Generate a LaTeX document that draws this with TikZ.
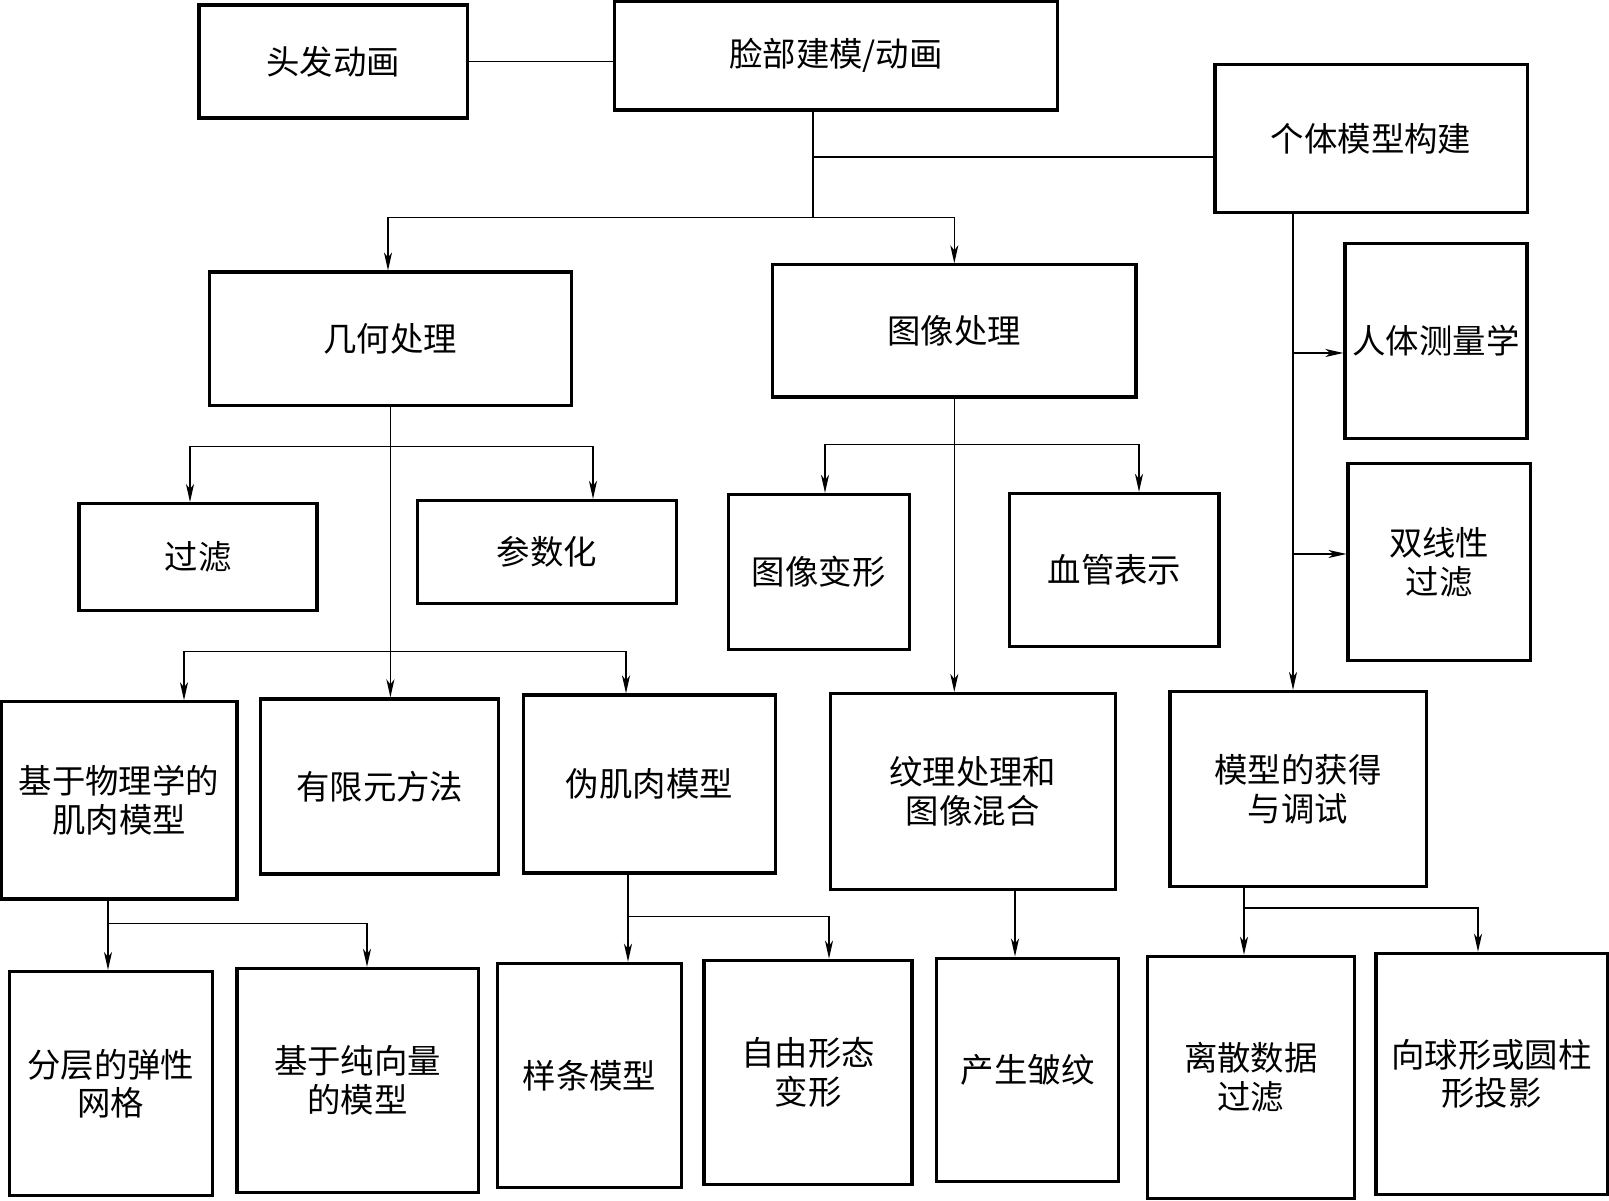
\documentclass[tikz,border=0pt]{standalone}
\usepackage{fontspec}
\newfontfamily\cjkfont{Noto Sans CJK SC}
\usetikzlibrary{arrows.meta,calc}

\tikzset{
  box/.style={draw, line width=0.9pt, align=center, inner sep=0pt,
    font=\cjkfont\fontsize{9.5}{11}\selectfont},
  link/.style={line width=0.45pt},
  arr/.style={link, -{Stealth[length=0.18cm,width=0.08cm,inset=0.05cm]}}
}

\begin{document}
\begin{tikzpicture}[x=0.01cm, y=-0.01cm]
    \useasboundingbox (0,0) rectangle (1609,1201);

    % Boxes, top row
    \node[box, minimum width=2.68cm, minimum height=1.13cm] (hair) at (333,61.5) {头发动画};
    \node[box, minimum width=4.43cm, minimum height=1.09cm] (face) at (836,55.5) {脸部建模/动画};
    \node[box, minimum width=3.12cm, minimum height=1.48cm] (indiv) at (1371,138.5) {个体模型构建};

    % Second row
    \node[box, minimum width=3.62cm, minimum height=1.33cm] (geom) at (390.4,338.6) {几何处理};
    \node[box, minimum width=3.63cm, minimum height=1.32cm] (img) at (954.3,330.9) {图像处理};
    \node[box, minimum width=1.82cm, minimum height=1.95cm] (anthro) at (1436,340.7) {人体测量学};
    \node[box, minimum width=1.82cm, minimum height=1.97cm] (bilin) at (1439.1,562.3) {双线性\\过滤};

    % Third row
    \node[box, minimum width=2.38cm, minimum height=1.07cm] (filt) at (198,557.2) {过滤};
    \node[box, minimum width=2.59cm, minimum height=1.03cm] (param) at (546.9,552) {参数化};
    \node[box, minimum width=1.81cm, minimum height=1.55cm] (warp) at (818.8,572) {图像变形};
    \node[box, minimum width=2.09cm, minimum height=1.53cm] (vessel) at (1114.4,570) {血管表示};

    % Fourth row
    \node[box, minimum width=2.36cm, minimum height=1.97cm] (phys) at (119,800.4) {基于物理学的\\肌肉模型};
    \node[box, minimum width=2.38cm, minimum height=1.75cm] (fem) at (379.7,786.5) {有限元方法};
    \node[box, minimum width=2.52cm, minimum height=1.78cm] (pseudo) at (649.5,784) {伪肌肉模型};
    \node[box, minimum width=2.85cm, minimum height=1.96cm] (tex) at (972.8,791.6) {纹理处理和\\图像混合};
    \node[box, minimum width=2.56cm, minimum height=1.95cm] (acq) at (1298,789.1) {模型的获得\\与调试};

    % Bottom row
    \node[box, minimum width=2.03cm, minimum height=2.24cm] (layer) at (110.8,1083.6) {分层的弹性\\网格};
    \node[box, minimum width=2.41cm, minimum height=2.24cm] (vect) at (357.6,1080.5) {基于纯向量\\的模型};
    \node[box, minimum width=1.84cm, minimum height=2.24cm] (spline) at (589.5,1075.4) {样条模型};
    \node[box, minimum width=2.08cm, minimum height=2.24cm] (ffd) at (808,1072.3) {自由形态\\变形};
    \node[box, minimum width=1.82cm, minimum height=2.23cm] (wrinkle) at (1027.6,1069.7) {产生皱纹};
    \node[box, minimum width=2.07cm, minimum height=2.42cm] (discrete) at (1250.9,1077.4) {离散数据\\过滤};
    \node[box, minimum width=2.31cm, minimum height=2.41cm] (proj) at (1491.5,1073.9) {向球形或圆柱\\形投影};

    % Top links
    \draw[link] (hair.east) -- (hair.east -| face.west);
    \coordinate (fd) at (813,217.5);
    \coordinate (fi) at (813,157);
    \draw[link] (face.south -| fd) -- (fd);
    \draw[link] (fi) -- (fi -| indiv.west);
    \draw[arr] (fd) -| (geom.north -| 388,0);
    \draw[arr] (fd) -| (img.north);

    % Individual model branch
    \coordinate (ia) at (1293,353);
    \coordinate (ib) at (1293,554);
    \draw[arr] (indiv.south -| ia) -- (acq.north -| ia);
    \draw[arr] (ia) -- (ia -| anthro.west);
    \draw[arr] (ib) -- (ib -| bilin.west);

    % Geometry branch
    \draw[arr] (geom.south) -- (geom.south |- fem.north);
    \coordinate (ga) at (390,446.4);
    \coordinate (gb) at (390,651.6);
    \draw[arr] (ga) -| (filt.north -| 190,0);
    \draw[arr] (ga) -| (param.north -| 593,0);
    \draw[arr] (gb) -| (phys.north -| 184,0);
    \draw[arr] (gb) -| (pseudo.north -| 626,0);

    % Image branch
    \draw[arr] (img.south) -- (img.south |- tex.north);
    \coordinate (ma) at (954.3,444.3);
    \draw[arr] (ma) -| (warp.north -| 825,0);
    \draw[arr] (ma) -| (vessel.north -| 1139,0);

    % Lower links
    \draw[arr] (phys.south -| 108,0) -- (layer.north -| 108,0);
    \coordinate (pa) at (108,923.5);
    \draw[arr] (pa) -| (vect.north -| 367,0);
    \draw[arr] (pseudo.south -| 628,0) -- (spline.north -| 628,0);
    \coordinate (sa) at (628,916.3);
    \draw[arr] (sa) -| (ffd.north -| 829,0);
    \draw[arr] (tex.south -| 1015,0) -- (wrinkle.north -| 1015,0);
    \draw[arr] (acq.south -| 1244,0) -- (discrete.north -| 1244,0);
    \coordinate (aa) at (1244,908);
    \draw[arr] (aa) -| (proj.north -| 1478,0);

\end{tikzpicture}
\end{document}
